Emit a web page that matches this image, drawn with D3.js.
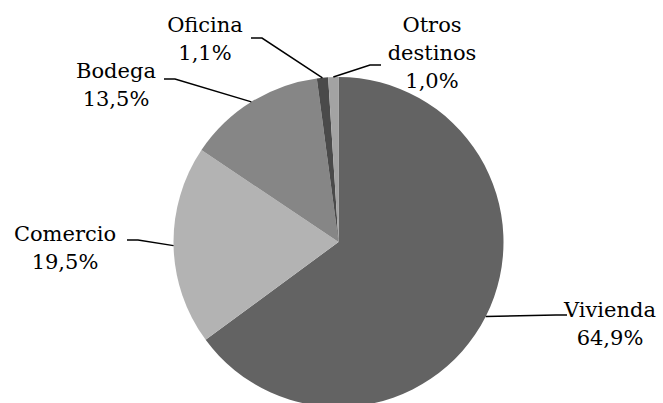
<!DOCTYPE html>
<html>
<head>
<meta charset="utf-8">
<script src="https://cdn.jsdelivr.net/npm/d3@7.9.0/dist/d3.min.js"></script>
<style>
  html, body { margin: 0; padding: 0; background: #fff; }
  text { font-family: "DejaVu Serif", serif; font-size: 21px; fill: #000; }
</style>
</head>
<body>
<svg id="chart" width="663" height="403"></svg>
<script>
// data, clockwise from 12 o'clock
const categories = ['Vivienda', 'Comercio', 'Bodega', 'Oficina', 'Otros destinos'];
const shares = [64.9, 19.5, 13.5, 1.1, 1.0];
const labelLines = [['Vivienda'], ['Comercio'], ['Bodega'], ['Oficina'], ['Otros', 'destinos']];
const colors = ['#636363', '#b3b3b3', '#868686', '#4a4a4a', '#a3a3a3'];

// label placement: text centre, first baseline, leader elbow
const labelPos = [
  { x: 610, y: 317, elbow: [556, 315], side: 'right' },
  { x: 65, y: 241, elbow: [138, 240], side: 'left' },
  { x: 116, y: 78, elbow: [175, 79], side: 'left' },
  { x: 205, y: 32, elbow: [262, 38], side: 'left' },
  { x: 432, y: 32, elbow: [370, 65], side: 'right' }
];

const cx = 338.5, cy = 242, r = 165;
const lineH = 28;

const svg = d3.select('#chart');
const g = svg.append('g').attr('transform', `translate(${cx},${cy})`);

const pie = d3.pie().sort(null).value(d => d);
const arcs = pie(shares);
const arc = d3.arc().innerRadius(0).outerRadius(r);

g.selectAll('path')
  .data(arcs)
  .join('path')
  .attr('d', arc)
  .attr('fill', (d, i) => colors[i]);

// leader lines
const fmt = v => v.toFixed(1).replace('.', ',') + '%';

arcs.forEach((d, i) => {
  const mid = (d.startAngle + d.endAngle) / 2;
  const px = cx + r * Math.sin(mid);
  const py = cy - r * Math.cos(mid);
  const p = labelPos[i];
  const [ex, ey] = p.elbow;
  const hx = p.side === 'left' ? ex - 11 : ex + 11;
  svg.append('polyline')
    .attr('points', `${px},${py} ${ex},${ey} ${hx},${ey}`)
    .attr('fill', 'none')
    .attr('stroke', '#000')
    .attr('stroke-width', 1.5);

  const t = svg.append('text')
    .attr('text-anchor', 'middle')
    .attr('x', p.x)
    .attr('y', p.y);
  const lines = labelLines[i].concat([fmt(shares[i])]);
  lines.forEach((s, k) => {
    t.append('tspan')
      .attr('x', p.x)
      .attr('dy', k === 0 ? 0 : lineH)
      .text(s);
  });
});
</script>
</body>
</html>
